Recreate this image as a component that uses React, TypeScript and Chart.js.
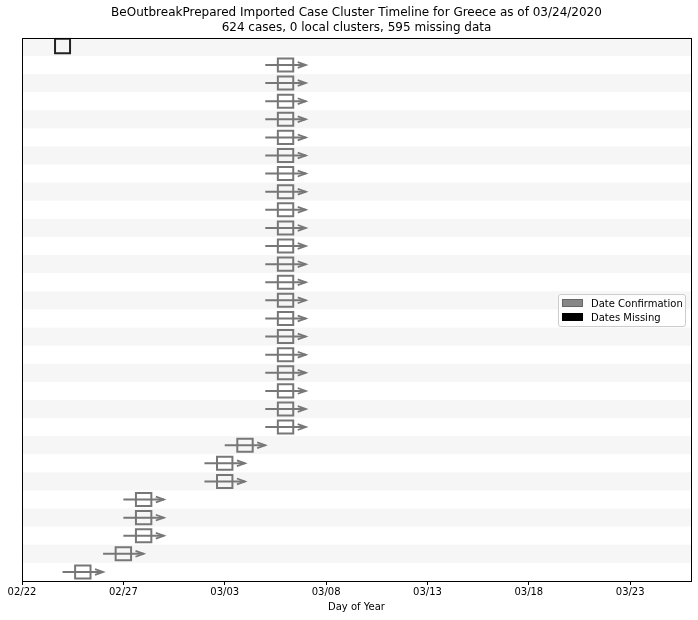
import React, { useEffect, useRef } from 'react';
import { Chart, registerables } from 'chart.js';

Chart.register(...registerables);

// Tick labels (days after 02/22/2020)
const tickDays = [0, 5, 10, 15, 20, 25, 30];
const tickLabels = ['02/22', '02/27', '03/03', '03/08', '03/13', '03/18', '03/23'];
const xMaxDay = 33;

// One entry per row, from the top row down. Values are days after 02/22.
const confirmDay: (number | null)[] = [
  null, 13, 13, 13, 13, 13, 13, 13, 13, 13,
  13, 13, 13, 13, 13, 13, 13, 13, 13, 13,
  13, 13, 11, 10, 10, 6, 6, 6, 5, 3,
];
const missingDay: (number | null)[] = [
  2, null, null, null, null, null, null, null, null, null,
  null, null, null, null, null, null, null, null, null, null,
  null, null, null, null, null, null, null, null, null, null,
];

const titleLines = [
  'BeOutbreakPrepared Imported Case Cluster Timeline for Greece as of 03/24/2020',
  '624 cases, 0 local clusters, 595 missing data',
];
const legendItems = ['Date Confirmation', 'Dates Missing'];

const FONT = "'DejaVu Sans', sans-serif";
const GRAY = '#777777';

type P = { x: number; y: number | null };

function rectPoints(d: number, yc: number, hw: number, hh: number): P[] {
  return [
    { x: d - hw, y: yc - hh },
    { x: d + hw, y: yc - hh },
    { x: d + hw, y: yc + hh },
    { x: d - hw, y: yc + hh },
    { x: d - hw, y: yc - hh },
    { x: d, y: null },
  ];
}

export default function App() {
  const ref = useRef<HTMLCanvasElement | null>(null);

  useEffect(() => {
    if (!ref.current) return;
    const rows = confirmDay.length;
    const stems: P[] = [];
    const heads: P[] = [];
    const boxes: P[] = [];
    const missBoxes: P[] = [];
    confirmDay.forEach((d, i) => {
      if (d === null) return;
      const yc = i + 0.5;
      stems.push({ x: d - 1, y: yc }, { x: d + 1, y: yc }, { x: d + 1, y: null });
      heads.push(
        { x: d + 1 - 0.4, y: yc - 0.16 },
        { x: d + 1, y: yc },
        { x: d + 1 - 0.4, y: yc + 0.16 },
        { x: d + 1, y: null },
      );
      boxes.push(...rectPoints(d, yc, 0.38, 0.36));
    });
    missingDay.forEach((d, i) => {
      if (d === null) return;
      missBoxes.push(...rectPoints(d, i + 0.45, 0.37, 0.4));
    });

    const bands = {
      id: 'bands',
      beforeDatasetsDraw(chart: any) {
        const { ctx, chartArea, scales } = chart;
        ctx.save();
        ctx.fillStyle = '#f6f6f6';
        for (let i = 0; i < rows; i += 2) {
          const y0 = scales.y.getPixelForValue(i);
          const y1 = scales.y.getPixelForValue(i + 1);
          ctx.fillRect(chartArea.left, Math.min(y0, y1), chartArea.right - chartArea.left, Math.abs(y1 - y0));
        }
        ctx.restore();
      },
      afterDraw(chart: any) {
        const { ctx, chartArea } = chart;
        ctx.save();
        ctx.strokeStyle = '#000';
        ctx.lineWidth = 1;
        const l = Math.round(chartArea.left) + 0.5;
        const t = Math.round(chartArea.top) + 0.5;
        const r = Math.round(chartArea.right) + 0.5;
        const b = Math.round(chartArea.bottom) + 0.5;
        ctx.strokeRect(l, t, r - l, b - t);
        ctx.restore();
      },
    };

    const common = {
      showLine: true,
      pointRadius: 0,
      pointHoverRadius: 0,
      tension: 0,
      spanGaps: false,
      fill: false,
    };

    const chart = new Chart(ref.current, {
      type: 'scatter',
      data: {
        datasets: [
          { ...common, data: stems, borderColor: GRAY, borderWidth: 2, borderCapStyle: 'butt' },
          { ...common, data: heads, borderColor: GRAY, borderWidth: 1.8, borderCapStyle: 'butt', borderJoinStyle: 'miter' },
          { ...common, data: boxes, borderColor: GRAY, borderWidth: 2, borderCapStyle: 'square', borderJoinStyle: 'miter' },
          { ...common, data: missBoxes, borderColor: '#222', borderWidth: 2, borderCapStyle: 'square', borderJoinStyle: 'miter' },
        ] as any,
      },
      options: {
        animation: false,
        responsive: false,
        events: [],
        layout: { padding: { left: 22, right: 7, top: 0, bottom: 2 } },
        plugins: {
          legend: { display: false },
          tooltip: { enabled: false },
          title: {
            display: true,
            text: titleLines,
            color: '#000',
            font: { family: FONT, size: 12, weight: 'normal', lineHeight: 1.2 },
            padding: { top: 6, bottom: 3 },
          },
        },
        scales: {
          x: {
            type: 'linear',
            min: 0,
            max: xMaxDay,
            afterBuildTicks: (scale: any) => {
              scale.ticks = tickDays.map((v) => ({ value: v }));
            },
            ticks: {
              autoSkip: false,
              maxRotation: 0,
              padding: 1,
              color: '#000',
              font: { family: FONT, size: 10 },
              callback: (v: any) => {
                const k = tickDays.indexOf(Number(v));
                return k >= 0 ? tickLabels[k] : '';
              },
            },
            grid: { drawOnChartArea: false, drawTicks: true, tickLength: 4, color: '#000' },
            border: { display: false },
            title: {
              display: true,
              text: 'Day of Year',
              color: '#000',
              font: { family: FONT, size: 10 },
              padding: { top: 2, bottom: 5 },
            },
          },
          y: {
            type: 'linear',
            min: 0,
            max: rows,
            reverse: true,
            display: false,
          },
        },
      } as any,
      plugins: [bands],
    });
    return () => chart.destroy();
  }, []);

  const patchStyle = (bg: string, border: string): React.CSSProperties => ({
    width: 19,
    height: 6,
    background: bg,
    border: `1px solid ${border}`,
    marginRight: 8,
    flex: 'none',
  });

  return (
    <div style={{ position: 'fixed', left: 0, top: 0, width: 698, height: 620, background: '#fff' }}>
      <canvas ref={ref} width={698} height={620} style={{ display: 'block' }} />
      <div
        style={{
          position: 'absolute',
          left: 558,
          top: 294,
          width: 126,
          height: 31,
          border: '1px solid #cccccc',
          borderRadius: 3,
          background: 'rgba(255,255,255,0.8)',
          fontFamily: FONT,
          fontSize: 10,
          color: '#000',
          boxSizing: 'content-box',
        }}
      >
        <div style={{ display: 'flex', alignItems: 'center', position: 'absolute', left: 3, top: 2, height: 12, whiteSpace: 'nowrap' }}>
          <div style={patchStyle('#888888', '#666666')} />
          <span>{legendItems[0]}</span>
        </div>
        <div style={{ display: 'flex', alignItems: 'center', position: 'absolute', left: 3, top: 16, height: 12, whiteSpace: 'nowrap' }}>
          <div style={patchStyle('#000000', '#000000')} />
          <span>{legendItems[1]}</span>
        </div>
      </div>
    </div>
  );
}
